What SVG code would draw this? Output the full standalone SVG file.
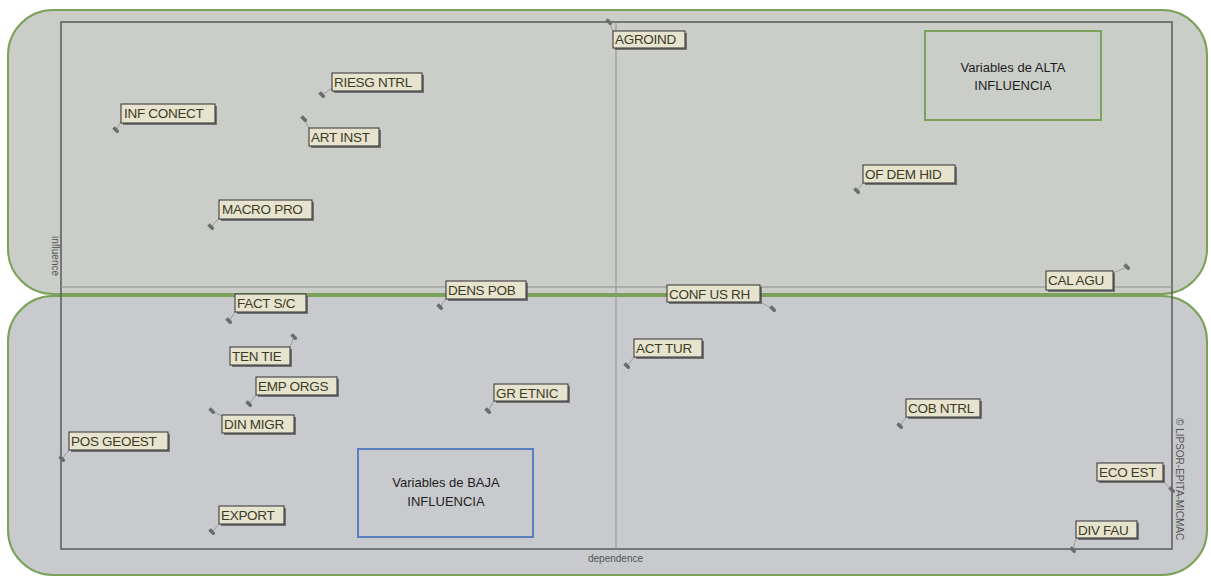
<svg xmlns="http://www.w3.org/2000/svg" width="1211" height="578" viewBox="0 0 1211 578">
<style>
.zone{stroke:#7aa25a;stroke-width:2}
.frame{fill:none;stroke:#5f6262;stroke-width:1.6}
.axis{stroke:#8d9090;stroke-width:1}
.shadow{fill:#555;opacity:0.75}
.box{fill:#e6e3cf;stroke:#303030;stroke-width:1}
.lbl{font-family:"Liberation Sans",Arial,sans-serif;font-size:13.5px;fill:#3c3c24;letter-spacing:-0.3px}
.lead{stroke:#9a9c9c;stroke-width:1}
.pin{fill:#6a6c6c}
.note{font-family:"Liberation Sans",Arial,sans-serif;font-size:13px;fill:#1e1e1e;text-anchor:middle}
.small{font-family:"Liberation Sans",Arial,sans-serif;font-size:10px;fill:#555}
</style>
<defs>
<path id="pin" d="M-3.5,-1.8 L2.5,-1.8 L3.8,0 L2.5,1.8 L-3.5,1.8 Z" class="pin"/>
</defs>
<rect width="1211" height="578" fill="#ffffff"/>
<g id="zones">
<rect class="zone" x="8" y="10" width="1199" height="284" rx="45" fill="#cacdc8"/>
<rect class="zone" x="8" y="296" width="1199" height="279" rx="45" fill="#c8cacd"/>
</g>
<g id="plot">
<rect class="frame" x="61" y="22" width="1111" height="527"/>
<line class="axis" x1="616" y1="22" x2="616" y2="549"/>
<line class="axis" x1="61" y1="287" x2="1172" y2="287"/>
<text class="small" x="588" y="562" font-size="11">dependence</text>
<text class="small" transform="translate(52,256) rotate(90)" text-anchor="middle" font-size="9">influence</text>
<text class="small" transform="translate(1176,418) rotate(90)" font-size="10">© LIPSOR-EPITA-MICMAC</text>
</g>
<g id="connectors">
<line class="lead" x1="609" y1="22" x2="613" y2="31"/>
<line class="lead" x1="322" y1="95" x2="332" y2="88"/>
<line class="lead" x1="116" y1="130" x2="121" y2="122"/>
<line class="lead" x1="304" y1="119" x2="309" y2="128"/>
<line class="lead" x1="211" y1="227" x2="219" y2="218"/>
<line class="lead" x1="857" y1="191" x2="863" y2="183"/>
<line class="lead" x1="1127" y1="267" x2="1113" y2="273"/>
<line class="lead" x1="440" y1="307" x2="446" y2="299"/>
<line class="lead" x1="773" y1="309" x2="760" y2="302"/>
<line class="lead" x1="229" y1="321" x2="235" y2="312"/>
<line class="lead" x1="294" y1="337" x2="290" y2="347"/>
<line class="lead" x1="249" y1="404" x2="256" y2="395"/>
<line class="lead" x1="212" y1="411" x2="222" y2="416"/>
<line class="lead" x1="488" y1="411" x2="494" y2="401"/>
<line class="lead" x1="627" y1="366" x2="634" y2="357"/>
<line class="lead" x1="900" y1="426" x2="906" y2="417"/>
<line class="lead" x1="62" y1="459" x2="69" y2="450"/>
<line class="lead" x1="212" y1="532" x2="219" y2="524"/>
<line class="lead" x1="1172" y1="490" x2="1163" y2="481"/>
<line class="lead" x1="1073" y1="550" x2="1076" y2="538"/>
</g>
<g id="n-agroind"><use href="#pin" transform="translate(609,22) rotate(45)"/><rect class="shadow" x="615" y="33" width="72" height="17"/><rect class="box" x="613" y="31" width="72" height="17"/><text class="lbl" x="615" y="44">AGROIND</text></g>
<g id="n-riesg"><use href="#pin" transform="translate(322,95) rotate(45)"/><rect class="shadow" x="334" y="75" width="90" height="18"/><rect class="box" x="332" y="73" width="90" height="18"/><text class="lbl" x="334" y="87">RIESG NTRL</text></g>
<g id="n-infconect"><use href="#pin" transform="translate(116,130) rotate(45)"/><rect class="shadow" x="123" y="106" width="94" height="19"/><rect class="box" x="121" y="104" width="94" height="19"/><text class="lbl" x="124" y="118">INF CONECT</text></g>
<g id="n-artinst"><use href="#pin" transform="translate(304,119) rotate(45)"/><rect class="shadow" x="311" y="130" width="70" height="18"/><rect class="box" x="309" y="128" width="70" height="18"/><text class="lbl" x="311" y="142">ART INST</text></g>
<g id="n-macro"><use href="#pin" transform="translate(211,227) rotate(45)"/><rect class="shadow" x="221" y="202" width="93" height="19"/><rect class="box" x="219" y="200" width="93" height="19"/><text class="lbl" x="222" y="214">MACRO PRO</text></g>
<g id="n-ofdem"><use href="#pin" transform="translate(857,191) rotate(45)"/><rect class="shadow" x="865" y="167" width="92" height="18"/><rect class="box" x="863" y="165" width="92" height="18"/><text class="lbl" x="865" y="179">OF DEM HID</text></g>
<g id="n-calagu"><use href="#pin" transform="translate(1127,267) rotate(45)"/><rect class="shadow" x="1048" y="273" width="67" height="19"/><rect class="box" x="1046" y="271" width="67" height="19"/><text class="lbl" x="1048" y="285">CAL AGU</text></g>
<g id="n-denspob"><use href="#pin" transform="translate(440,307) rotate(45)"/><rect class="shadow" x="448" y="283" width="80" height="18"/><rect class="box" x="446" y="281" width="80" height="18"/><text class="lbl" x="448" y="295">DENS POB</text></g>
<g id="n-confus"><use href="#pin" transform="translate(773,309) rotate(45)"/><rect class="shadow" x="669" y="287" width="93" height="17"/><rect class="box" x="667" y="285" width="93" height="17"/><text class="lbl" x="669" y="299">CONF US RH</text></g>
<g id="n-factsc"><use href="#pin" transform="translate(229,321) rotate(45)"/><rect class="shadow" x="237" y="296" width="71" height="18"/><rect class="box" x="235" y="294" width="71" height="18"/><text class="lbl" x="237" y="308">FACT S/C</text></g>
<g id="n-tentie"><use href="#pin" transform="translate(294,337) rotate(45)"/><rect class="shadow" x="232" y="349" width="60" height="18"/><rect class="box" x="230" y="347" width="60" height="18"/><text class="lbl" x="232" y="361">TEN TIE</text></g>
<g id="n-emporgs"><use href="#pin" transform="translate(249,404) rotate(45)"/><rect class="shadow" x="258" y="379" width="81" height="18"/><rect class="box" x="256" y="377" width="81" height="18"/><text class="lbl" x="258" y="391">EMP ORGS</text></g>
<g id="n-dinmigr"><use href="#pin" transform="translate(212,411) rotate(45)"/><rect class="shadow" x="224" y="417" width="72" height="18"/><rect class="box" x="222" y="415" width="72" height="18"/><text class="lbl" x="224" y="429">DIN MIGR</text></g>
<g id="n-gretnic"><use href="#pin" transform="translate(488,411) rotate(45)"/><rect class="shadow" x="496" y="386" width="74" height="17"/><rect class="box" x="494" y="384" width="74" height="17"/><text class="lbl" x="496" y="398">GR ETNIC</text></g>
<g id="n-acttur"><use href="#pin" transform="translate(627,366) rotate(45)"/><rect class="shadow" x="636" y="341" width="68" height="18"/><rect class="box" x="634" y="339" width="68" height="18"/><text class="lbl" x="636" y="353">ACT TUR</text></g>
<g id="n-cobntrl"><use href="#pin" transform="translate(900,426) rotate(45)"/><rect class="shadow" x="908" y="401" width="74" height="18"/><rect class="box" x="906" y="399" width="74" height="18"/><text class="lbl" x="908" y="413">COB NTRL</text></g>
<g id="n-posgeoest"><use href="#pin" transform="translate(62,459) rotate(45)"/><rect class="shadow" x="71" y="434" width="99" height="18"/><rect class="box" x="69" y="432" width="99" height="18"/><text class="lbl" x="71" y="446">POS GEOEST</text></g>
<g id="n-export"><use href="#pin" transform="translate(212,532) rotate(45)"/><rect class="shadow" x="221" y="508" width="65" height="18"/><rect class="box" x="219" y="506" width="65" height="18"/><text class="lbl" x="221" y="520">EXPORT</text></g>
<g id="n-ecoest"><use href="#pin" transform="translate(1172,490) rotate(45)"/><rect class="shadow" x="1099" y="465" width="66" height="18"/><rect class="box" x="1097" y="463" width="66" height="18"/><text class="lbl" x="1099" y="477">ECO EST</text></g>
<g id="n-divfau"><use href="#pin" transform="translate(1073,550) rotate(45)"/><rect class="shadow" x="1078" y="523" width="61" height="17"/><rect class="box" x="1076" y="521" width="61" height="17"/><text class="lbl" x="1078" y="535">DIV FAU</text></g>
<g id="n-alta">
<rect x="925" y="31" width="176" height="89" fill="none" stroke="#7aa25a" stroke-width="2"/>
<text class="note" x="1013" y="72">Variables de ALTA</text>
<text class="note" x="1013" y="90">INFLUENCIA</text>
</g>
<g id="n-baja">
<rect x="358" y="449" width="175" height="88" fill="none" stroke="#5a7fc0" stroke-width="2"/>
<text class="note" x="446" y="487">Variables de BAJA</text>
<text class="note" x="446" y="506">INFLUENCIA</text>
</g>
</svg>
